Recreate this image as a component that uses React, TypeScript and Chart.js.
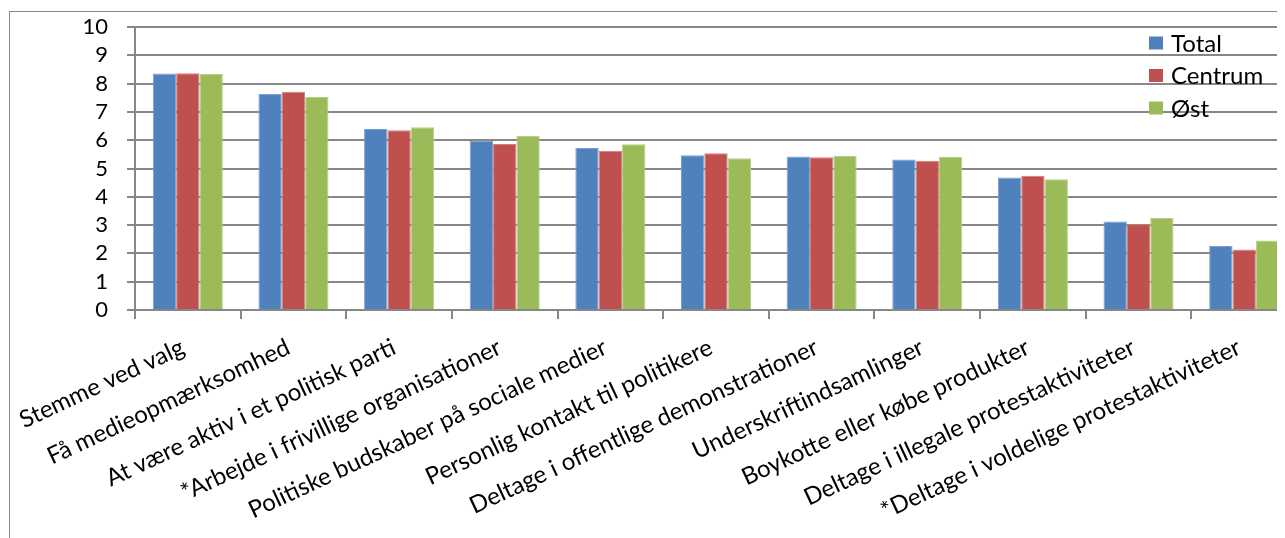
import React, { useEffect, useRef } from "react";
import { Chart, registerables } from "chart.js";

Chart.register(...registerables);

const categories: string[] = [
  "Stemme ved valg",
  "Få medieopmærksomhed",
  "At være aktiv i et politisk parti",
  "*Arbejde i frivillige organisationer",
  "Politiske budskaber på sociale medier",
  "Personlig kontakt til politikere",
  "Deltage i offentlige demonstrationer",
  "Underskriftindsamlinger",
  "Boykotte eller købe produkter",
  "Deltage i illegale protestaktiviteter",
  "*Deltage i voldelige protestaktiviteter",
];

const totalValues: number[] = [8.36, 7.63, 6.4, 5.98, 5.72, 5.47, 5.42, 5.32, 4.68, 3.13, 2.26];
const centrumValues: number[] = [8.37, 7.71, 6.35, 5.87, 5.63, 5.54, 5.4, 5.27, 4.74, 3.03, 2.14];
const ostValues: number[] = [8.34, 7.53, 6.46, 6.15, 5.86, 5.36, 5.44, 5.41, 4.62, 3.25, 2.46];

const seriesNames: string[] = ["Total", "Centrum", "Øst"];
const yMin = 0;
const yMax = 10;
const yStep = 1;

const FONT = "Lato, Calibri, 'DejaVu Sans', sans-serif";
const GRID = "#878787";

const legendPlugin = {
  id: "boxLegend",
  afterDraw(chart: any) {
    const { ctx, chartArea } = chart;
    const x0 = chartArea.right - 148;
    const y0 = chartArea.top + 16;
    ctx.save();
    chart.data.datasets.forEach((ds: any, i: number) => {
      const cy = y0 + i * 32.5;
      ctx.fillStyle = ds.backgroundColor;
      ctx.fillRect(x0, cy - 6.5, 14, 13);
      ctx.fillStyle = "#000";
      ctx.font = `24px ${FONT}`;
      ctx.textBaseline = "middle";
      ctx.textAlign = "left";
      ctx.fillText(ds.label, x0 + 22, cy + 1);
    });
    ctx.restore();
  },
};

export default function App() {
  const ref = useRef<HTMLCanvasElement | null>(null);

  useEffect(() => {
    if (!ref.current) return;
    const chart = new Chart(ref.current, {
      type: "bar",
      data: {
        labels: categories,
        datasets: [
          { label: seriesNames[0], data: totalValues, backgroundColor: "#4F81BD", borderColor: "#7a9fcf", borderWidth: 1 },
          { label: seriesNames[1], data: centrumValues, backgroundColor: "#C0504D", borderColor: "#d27e7b", borderWidth: 1 },
          { label: seriesNames[2], data: ostValues, backgroundColor: "#9BBB59", borderColor: "#b6cf85", borderWidth: 1 },
        ],
      },
      options: {
        responsive: false,
        animation: false,
        devicePixelRatio: 1,
        layout: { padding: { top: 0, right: 33, left: 0, bottom: 0 } },
        datasets: { bar: { categoryPercentage: 0.663, barPercentage: 1.0 } },
        plugins: { legend: { display: false }, tooltip: { enabled: false } },
        scales: {
          x: {
            grid: { offset: true, drawOnChartArea: false, drawTicks: true, tickLength: 9, color: GRID, lineWidth: 2 },
            border: { color: GRID, width: 2 },
            ticks: {
              autoSkip: false,
              maxRotation: 25,
              minRotation: 25,
              padding: 14,
              labelOffset: -5,
              color: "#000",
              font: { family: FONT, size: 24 },
            },
            afterFit: (s: any) => {
              s.height = 247;
              s.paddingLeft = 0;
              s.paddingRight = 0;
            },
          },
          y: {
            min: yMin,
            max: yMax,
            grid: { color: GRID, lineWidth: 2, tickLength: 8, drawOnChartArea: true },
            border: { color: GRID, width: 2 },
            ticks: {
              stepSize: yStep,
              autoSkip: false,
              padding: 19,
              color: "#000",
              font: { family: FONT, size: 22 },
            },
            afterFit: (s: any) => {
              s.width = 125;
              s.paddingTop = 15;
              s.paddingBottom = 0;
            },
          },
        },
      },
      plugins: [legendPlugin],
    });
    return () => chart.destroy();
  }, []);

  return (
    <div style={{ width: 1277, height: 530, overflow: "hidden" }}>
      <div
        style={{
          marginLeft: 1,
          marginTop: 3,
          width: 1330,
          height: 560,
          border: "1px solid #8a8a8a",
          position: "relative",
        }}
      >
        <canvas ref={ref} width={1320} height={545} style={{ display: "block" }} />
      </div>
    </div>
  );
}
